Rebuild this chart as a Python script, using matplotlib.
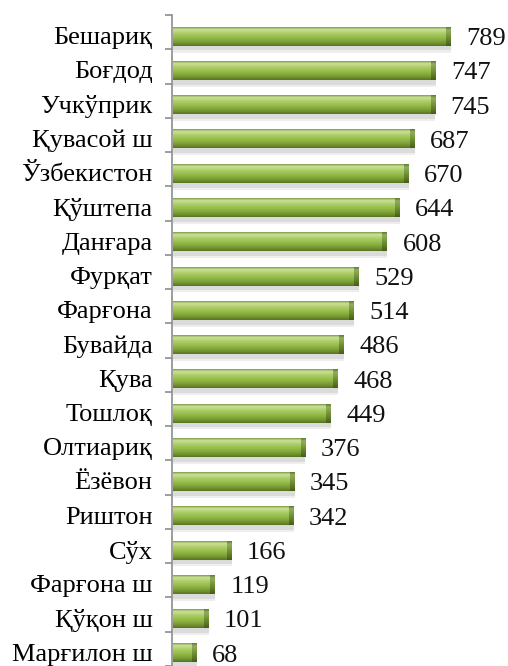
import numpy as np
import matplotlib.pyplot as plt
from matplotlib.colors import LinearSegmentedColormap

labels = ['Бешариқ', 'Боғдод', 'Учкўприк', 'Қувасой ш', 'Ўзбекистон', 'Қўштепа',
          'Данғара', 'Фурқат', 'Фарғона', 'Бувайда', 'Қува', 'Тошлоқ', 'Олтиариқ',
          'Ёзёвон', 'Риштон', 'Сўх', 'Фарғона ш', 'Қўқон ш', 'Марғилон ш']
values = [789, 747, 745, 687, 670, 644, 608, 529, 514, 486, 468, 449, 376,
          345, 342, 166, 119, 101, 68]

plt.rcParams['font.family'] = ['Liberation Serif', 'DejaVu Serif']

fig = plt.figure(figsize=(5.08, 6.66), dpi=100)
ax = fig.add_axes([172 / 508, 0, 336 / 508, 651 / 666])

# vertical shading of the cylinder-like bars
body = LinearSegmentedColormap.from_list('body', [
    (0.0, '#7f9c46'), (0.12, '#cbe29a'), (0.32, '#adcd68'),
    (0.6, '#90b742'), (0.85, '#729432'), (1.0, '#587321')])
cap = LinearSegmentedColormap.from_list('cap', [
    (0.0, '#5f7a30'), (0.15, '#93ad60'), (0.4, '#7c9c40'),
    (0.75, '#5d7a25'), (1.0, '#475d18')])
shade = np.linspace(0, 1, 64).reshape(-1, 1)

h = 0.55
dy = 0.12
cap_w = 14
for i, v in enumerate(values):
    y0 = i + dy - h / 2
    y1 = i + dy + h / 2
    # soft shadow under the bar
    ax.fill_between([0, v], y1, y1 + 0.14, color='#9a9a9a', alpha=0.35, lw=0)
    ax.fill_between([0, v], y1 + 0.14, y1 + 0.2, color='#bdbdbd', alpha=0.25, lw=0)
    ax.imshow(shade, cmap=body, aspect='auto', extent=[0, v - cap_w, y1, y0],
              interpolation='bilinear', zorder=2)
    ax.imshow(shade, cmap=cap, aspect='auto', extent=[v - cap_w, v, y1, y0],
              interpolation='bilinear', zorder=2)
    ax.annotate(str(v), xy=(v, i + 0.2), xytext=(11, 0), textcoords='offset points',
                ha='left', va='center', fontsize=19, color='#111111')

ax.set_xlim(-3, 951)
ax.set_ylim(len(values) - 0.5, -0.5)

ax.set_yticks(np.arange(len(values)) + 0.1)
ax.set_yticklabels(labels, fontsize=19)
ax.set_yticks(np.arange(len(values) + 1) - 0.5, minor=True)
ax.tick_params(axis='y', which='major', length=0, pad=14)
ax.tick_params(axis='y', which='minor', length=5, color='#8c8c8c', width=1.2)
ax.set_xticks([])

for s in ['top', 'right', 'bottom']:
    ax.spines[s].set_visible(False)
ax.spines['left'].set_color('#8c8c8c')
ax.spines['left'].set_linewidth(1.2)

fig.savefig('out.png', dpi=100)
